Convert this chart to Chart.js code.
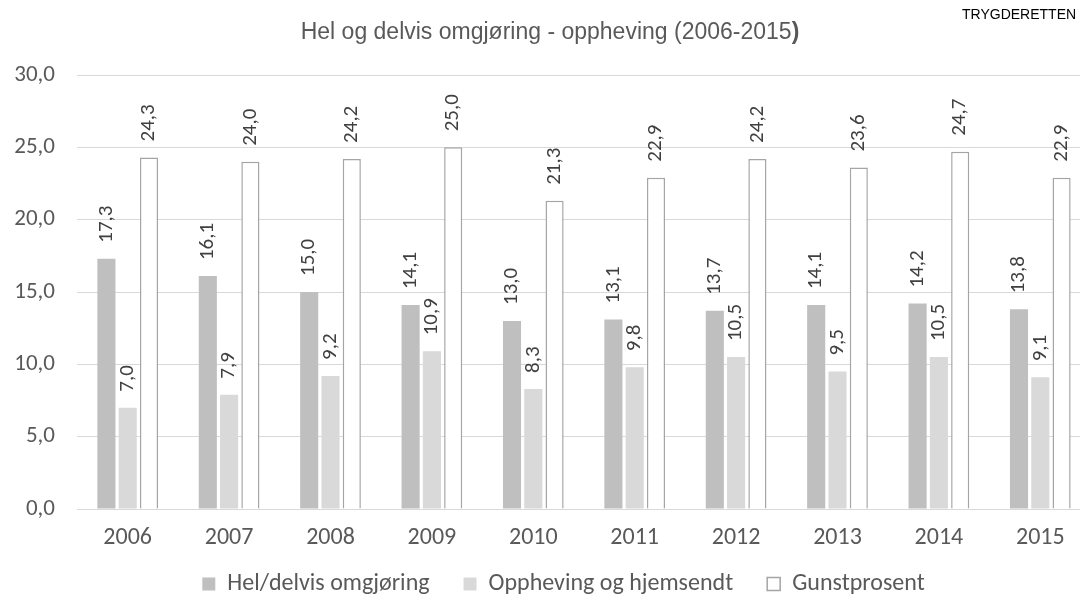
<!DOCTYPE html>
<html>
  <head>
    <script src="https://cdn.jsdelivr.net/npm/chart.js@4"></script>
    <style>
      body { margin: 0; overflow: hidden; background: #fff; }
    </style>
  </head>

  <body>
    <canvas id="canvas" width="1094" height="621"></canvas>
    <script>
      const years = ['2006', '2007', '2008', '2009', '2010', '2011', '2012', '2013', '2014', '2015'];
      const helDelvis = [17.3, 16.1, 15.0, 14.1, 13.0, 13.1, 13.7, 14.1, 14.2, 13.8];
      const opphevingHjemsendt = [7.0, 7.9, 9.2, 10.9, 8.3, 9.8, 10.5, 9.5, 10.5, 9.1];
      const gunstprosent = [24.3, 24.0, 24.2, 25.0, 21.3, 22.9, 24.2, 23.6, 24.7, 22.9];
      const yTicks = [0, 5, 10, 15, 20, 25, 30];

      const uiFont = 'Carlito, Calibri, Lato, sans-serif';
      const fmt = (v) => v.toFixed(1).replace('.', ',');

      // title with the odd bold closing paren + the small corner text
      const headerText = {
        id: 'headerText',
        afterDraw(chart) {
          const ctx = chart.ctx;
          ctx.save();
          ctx.textBaseline = 'middle';
          ctx.fillStyle = '#595959';
          const main = 'Hel og delvis omgjøring - oppheving (2006-2015';
          ctx.font = '23px "Liberation Sans", Arial, sans-serif';
          const w1 = ctx.measureText(main).width;
          ctx.font = 'bold 23px "Liberation Sans", Arial, sans-serif';
          const w2 = ctx.measureText(')').width;
          let x = 550 - (w1 + w2) / 2;
          ctx.textAlign = 'left';
          ctx.font = '23px "Liberation Sans", Arial, sans-serif';
          ctx.fillText(main, x, 33);
          ctx.font = 'bold 23px "Liberation Sans", Arial, sans-serif';
          ctx.fillText(')', x + w1, 33);

          ctx.fillStyle = '#000';
          ctx.font = '14px "Liberation Sans", Arial, sans-serif';
          ctx.fillText('TRYGDERETTEN', 962, 15);
          ctx.restore();
        },
      };

      // rotated value labels above each bar
      const barLabels = {
        id: 'barLabels',
        afterDatasetsDraw(chart) {
          const ctx = chart.ctx;
          ctx.save();
          ctx.font = '21px ' + uiFont;
          ctx.fillStyle = '#404040';
          ctx.textAlign = 'left';
          ctx.textBaseline = 'middle';
          chart.data.datasets.forEach((ds, i) => {
            chart.getDatasetMeta(i).data.forEach((bar, j) => {
              ctx.save();
              ctx.translate(bar.x, bar.y - 16);
              ctx.rotate(-Math.PI / 2);
              ctx.fillText(fmt(ds.data[j]), 0, 0);
              ctx.restore();
            });
          });
          ctx.restore();
        },
      };

      // the legend sits a bit right of centre and closer to the axis in the original
      const legendNudge = {
        id: 'legendNudge',
        afterLayout(chart) {
          const lg = chart.legend;
          lg.left += 18;
          lg.right += 18;
          lg.top -= 15;
          lg.bottom -= 15;
        },
      };

      new Chart(document.getElementById('canvas'), {
        type: 'bar',
        data: {
          labels: years,
          datasets: [
            {
              label: 'Hel/delvis omgjøring',
              data: helDelvis,
              backgroundColor: '#bfbfbf',
              borderWidth: 0,
            },
            {
              label: 'Oppheving og hjemsendt',
              data: opphevingHjemsendt,
              backgroundColor: '#d9d9d9',
              borderWidth: 0,
            },
            {
              label: 'Gunstprosent',
              data: gunstprosent,
              backgroundColor: '#ffffff',
              borderColor: '#a5a5a5',
              borderWidth: 1.5,
            },
          ],
        },
        options: {
          responsive: false,
          animation: false,
          devicePixelRatio: 1,
          categoryPercentage: 0.63,
          barPercentage: 0.85,
          layout: {
            padding: { top: 75, right: 3, bottom: 0, left: 0 },
          },
          plugins: {
            title: { display: false },
            tooltip: { enabled: false },
            legend: {
              position: 'bottom',
              labels: {
                boxWidth: 13,
                boxHeight: 13,
                padding: 34,
                color: '#595959',
                font: { family: uiFont, size: 24 },
              },
            },
          },
          scales: {
            x: {
              grid: { display: false, drawTicks: false },
              border: { color: '#d9d9d9', width: 1 },
              afterFit(scale) {
                scale.height = 44;
              },
              ticks: {
                color: '#595959',
                padding: 15,
                font: { family: uiFont, size: 24 },
              },
            },
            y: {
              min: 0,
              max: 30,
              afterBuildTicks(scale) {
                scale.ticks = yTicks.map((v) => ({ value: v }));
              },
              afterFit(scale) {
                scale.width = 77;
              },
              border: { display: false },
              grid: { color: '#d9d9d9', lineWidth: 1, drawTicks: false },
              ticks: {
                color: '#595959',
                padding: 22,
                font: { family: uiFont, size: 23 },
                callback: (v) => fmt(v),
              },
            },
          },
        },
        plugins: [headerText, barLabels, legendNudge],
      });
    </script>
  </body>
</html>
